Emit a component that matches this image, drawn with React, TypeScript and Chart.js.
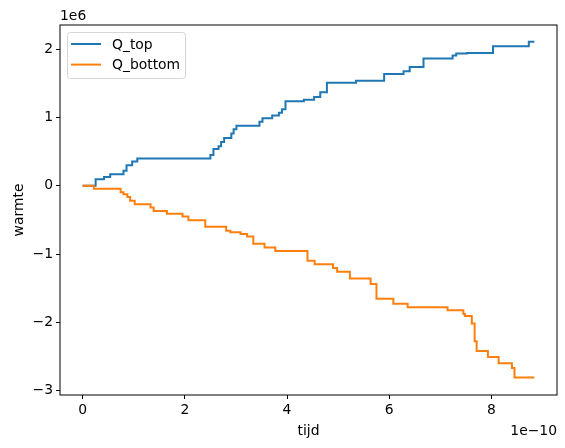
import { useEffect, useRef } from "react"
import { Chart, registerables } from "chart.js"

Chart.register(...registerables)

// tijd in units of 1e-10, warmte in units of 1e6
const topTimes = [
  0, 0.255, 0.42, 0.54, 0.8, 0.86, 0.97, 1.07, 2.5, 2.56, 2.66, 2.71, 2.77, 2.91, 2.955, 3.01, 3.46, 3.52,
  3.71, 3.84, 3.9, 3.97, 4.33, 4.53, 4.65, 4.78, 5.35, 5.9, 6.28, 6.4, 6.67, 7.24, 7.31, 7.52, 8.03, 8.73, 8.84,
]
const topHeat = [
  0, 0.095, 0.13, 0.17, 0.22, 0.3, 0.355, 0.4, 0.45, 0.54, 0.58, 0.64, 0.7, 0.765, 0.83, 0.88, 0.94, 0.99,
  1.03, 1.07, 1.12, 1.24, 1.26, 1.3, 1.37, 1.51, 1.54, 1.64, 1.68, 1.74, 1.865, 1.91, 1.94, 1.945, 2.045, 2.11, 2.11,
]
const bottomTimes = [
  0, 0.22, 0.745, 0.8, 0.876, 0.93, 1.02, 1.33, 1.39, 1.65, 1.955, 2.07, 2.4, 2.81, 2.89, 3.09, 3.22, 3.34,
  3.56, 3.77, 4.4, 4.54, 4.9, 4.98, 5.23, 5.635, 5.75, 6.08, 6.36, 7.14, 7.45, 7.48, 7.615, 7.67, 7.71, 7.93,
  8.14, 8.4, 8.45, 8.84,
]
const bottomHeat = [
  0, -0.045, -0.095, -0.125, -0.165, -0.22, -0.27, -0.32, -0.37, -0.41, -0.45, -0.505, -0.6, -0.66, -0.68,
  -0.705, -0.745, -0.85, -0.905, -0.955, -1.1, -1.15, -1.205, -1.26, -1.36, -1.44, -1.655, -1.73, -1.78,
  -1.825, -1.88, -1.91, -2.02, -2.28, -2.42, -2.51, -2.6, -2.67, -2.81, -2.81,
]
const xTicks = [0, 2, 4, 6, 8]
const yTicks = [-3, -2, -1, 0, 1, 2]
const seriesNames = ["Q_top", "Q_bottom"]

const FONT = "DejaVu Sans"
const FS = 13.9
const BLUE = "#1f77b4"
const ORANGE = "#ff7f0e"

const fmt = (v: number) => (v < 0 ? "\u2212" + Math.abs(v) : String(v))

const decorations = {
  id: "decorations",
  afterDatasetsDraw(chart: Chart) {
    const { ctx, chartArea } = chart
    const { left, top, right, bottom } = chartArea
    ctx.save()
    // axes frame
    ctx.strokeStyle = "#000"
    ctx.lineWidth = 1
    ctx.strokeRect(left, top, right - left, bottom - top)

    // legend
    const lx = 67.5
    const ly = 32.5
    ctx.beginPath()
    ctx.roundRect(lx, ly, 118, 46, 3)
    ctx.fillStyle = "rgba(255,255,255,0.8)"
    ctx.fill()
    ctx.strokeStyle = "rgba(204,204,204,0.8)"
    ctx.stroke()
    const colors = [BLUE, ORANGE]
    ctx.font = `${FS}px "${FONT}"`
    ctx.textBaseline = "middle"
    ctx.textAlign = "left"
    seriesNames.forEach((name, i) => {
      const y = 44 + i * 20.6
      ctx.strokeStyle = colors[i]
      ctx.lineWidth = 2
      ctx.beginPath()
      ctx.moveTo(71, y)
      ctx.lineTo(101, y)
      ctx.stroke()
      ctx.fillStyle = "#000"
      ctx.fillText(name, 112, y + 1)
    })

    // axis labels and offsets
    ctx.fillStyle = "#000"
    ctx.textBaseline = "alphabetic"
    ctx.textAlign = "center"
    ctx.fillText("tijd", (left + right) / 2, 435)
    ctx.textAlign = "right"
    ctx.fillText("1e\u221210", right, 435)
    ctx.textAlign = "left"
    ctx.fillText("1e6", left, 20)
    ctx.translate(23, (top + bottom) / 2)
    ctx.rotate(-Math.PI / 2)
    ctx.textAlign = "center"
    ctx.fillText("warmte", 0, 0)
    ctx.restore()
  },
}

export default function App() {
  const chartRef = useRef<HTMLCanvasElement>(null)
  const chartInstance = useRef<Chart | null>(null)

  useEffect(() => {
    if (!chartRef.current) return
    const ctx = chartRef.current.getContext("2d")
    if (!ctx) return

    const tickFont = { family: FONT, size: FS }

    chartInstance.current = new Chart(ctx, {
      type: "line",
      data: {
        datasets: [
          {
            label: seriesNames[0],
            data: topTimes.map((t, i) => ({ x: t, y: topHeat[i] })),
            borderColor: BLUE,
            borderWidth: 2,
            pointRadius: 0,
            stepped: true,
            fill: false,
            order: 1,
          },
          {
            label: seriesNames[1],
            data: bottomTimes.map((t, i) => ({ x: t, y: bottomHeat[i] })),
            borderColor: ORANGE,
            borderWidth: 2,
            pointRadius: 0,
            stepped: true,
            fill: false,
            order: 0,
          },
        ],
      },
      options: {
        animation: false,
        responsive: true,
        maintainAspectRatio: false,
        devicePixelRatio: 1,
        layout: { padding: { top: 25, right: 8, left: 0, bottom: 0 } },
        scales: {
          x: {
            type: "linear",
            min: -0.442,
            max: 9.282,
            afterBuildTicks: (scale: any) => {
              scale.ticks = xTicks.map((v) => ({ value: v }))
            },
            afterFit: (scale: any) => {
              scale.height = 53
            },
            ticks: {
              autoSkip: false,
              maxRotation: 0,
              padding: 3,
              color: "#000",
              font: tickFont,
              callback: (v: any) => fmt(Number(v)),
            },
            grid: { drawOnChartArea: false, tickLength: 4, color: "#000" },
            border: { display: false },
          },
          y: {
            type: "linear",
            min: -3.0665,
            max: 2.3565,
            afterBuildTicks: (scale: any) => {
              scale.ticks = yTicks.map((v) => ({ value: v }))
            },
            afterFit: (scale: any) => {
              scale.width = 60
            },
            ticks: {
              autoSkip: false,
              padding: 3,
              color: "#000",
              font: tickFont,
              callback: (v: any) => fmt(Number(v)),
            },
            grid: { drawOnChartArea: false, tickLength: 4, color: "#000" },
            border: { display: false },
          },
        },
        plugins: {
          legend: { display: false },
          tooltip: { enabled: false },
        },
      },
      plugins: [decorations],
    })

    return () => {
      if (chartInstance.current) {
        chartInstance.current.destroy()
        chartInstance.current = null
      }
    }
  }, [])

  return (
    <div style={{ position: "absolute", left: 0, top: 0, width: 565, height: 448, background: "#fff" }}>
      <canvas ref={chartRef}></canvas>
    </div>
  )
}
